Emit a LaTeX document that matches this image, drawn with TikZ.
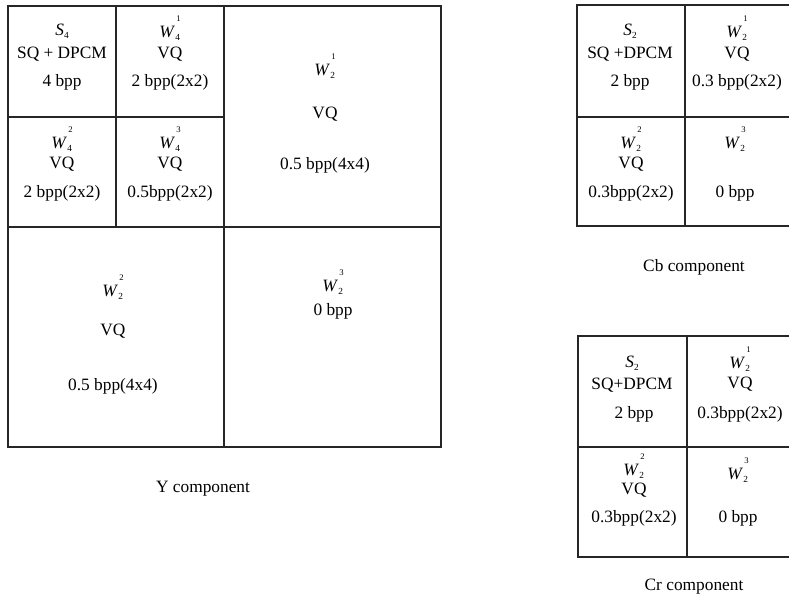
\documentclass[tikz,border=0pt]{standalone}
\usepackage{fontspec}
\setmainfont{Liberation Serif}

% band symbol: letter with index below and level number above
\newcommand{\subband}[3]{\textit{#1}\kern0.3pt\raisebox{-0.4ex}{\fontsize{7}{8}\selectfont #2}\kern-0.22em\raisebox{2.0ex}{\fontsize{6.5}{8}\selectfont #3}}

\tikzset{every picture/.style={line width=0.75pt}}
\tikzset{
  lbl/.style={font=\fontsize{13}{15}\selectfont, inner sep=0pt},
  captext/.style={font=\fontsize{13}{15}\selectfont, inner sep=0pt},
  grid/.style={line width=1.1pt, color=black!85}
}

\begin{document}
\begin{tikzpicture}[x=0.75pt,y=0.75pt,yscale=-1,xscale=1]
\path[use as bounding box] (0,0) rectangle (789,606);
\clip (0,0) rectangle (789,606);

%Y component frame
\draw [grid] (8,6) rectangle (441,447);
\draw [grid] (224,6) -- (224,447);
\draw [grid] (8,227) -- (441,227);
\draw [grid] (116,6) -- (116,227);
\draw [grid] (8,117) -- (224,117);

%Cb component frame
\draw [grid] (577,5) rectangle (795,226);
\draw [grid] (685,5) -- (685,226);
\draw [grid] (577,117) -- (795,117);

%Cr component frame
\draw [grid] (578,336) rectangle (797,557);
\draw [grid] (687,336) -- (687,557);
\draw [grid] (578,447) -- (797,447);

%Y : level 4 cells
\node [lbl] (ys4) at (62,31) {\textit{S}\raisebox{-0.35ex}{\fontsize{7}{8}\selectfont 4}};
\node [lbl] (ys4m) at (62,54) {SQ + DPCM};
\node [lbl] (ys4r) at (62,82) {4 bpp};
\node [lbl] (yw41) at (170,28) {\subband{W}{4}{1}};
\node [lbl] (yw41m) at (170,54) {VQ};
\node [lbl] (yw41r) at (170,82) {2 bpp(2x2)};
\node [lbl] (yw42) at (62,139) {\subband{W}{4}{2}};
\node [lbl] (yw42m) at (62,164) {VQ};
\node [lbl] (yw42r) at (62,193) {2 bpp(2x2)};
\node [lbl] (yw43) at (170,139) {\subband{W}{4}{3}};
\node [lbl] (yw43m) at (170,164) {VQ};
\node [lbl] (yw43r) at (170,193) {0.5bpp(2x2)};

%Y : level 2 cells
\node [lbl] (yw21) at (325,66) {\subband{W}{2}{1}};
\node [lbl] (yw21m) at (325,114) {VQ};
\node [lbl] (yw21r) at (325,165) {0.5 bpp(4x4)};
\node [lbl] (yw22) at (113,287) {\subband{W}{2}{2}};
\node [lbl] (yw22m) at (113,331) {VQ};
\node [lbl] (yw22r) at (113,386) {0.5 bpp(4x4)};
\node [lbl] (yw23) at (333,282) {\subband{W}{2}{3}};
\node [lbl] (yw23m) at (333,311) {0 bpp};

%Cb cells
\node [lbl] (bs2) at (630,31) {\textit{S}\raisebox{-0.35ex}{\fontsize{7}{8}\selectfont 2}};
\node [lbl] (bs2m) at (630,54) {SQ +DPCM};
\node [lbl] (bs2r) at (630,82) {2 bpp};
\node [lbl] (bw21) at (737,28) {\subband{W}{2}{1}};
\node [lbl] (bw21m) at (737,54) {VQ};
\node [lbl] (bw21r) at (737,82) {0.3 bpp(2x2)};
\node [lbl] (bw22) at (631,139) {\subband{W}{2}{2}};
\node [lbl] (bw22m) at (631,164) {VQ};
\node [lbl] (bw22r) at (631,193) {0.3bpp(2x2)};
\node [lbl] (bw23) at (735,139) {\subband{W}{2}{3}};
\node [lbl] (bw23r) at (735,193) {0 bpp};

%Cr cells
\node [lbl] (rs2) at (632,363) {\textit{S}\raisebox{-0.35ex}{\fontsize{7}{8}\selectfont 2}};
\node [lbl] (rs2m) at (632,385) {SQ+DPCM};
\node [lbl] (rs2r) at (634,414) {2 bpp};
\node [lbl] (rw21) at (740,359) {\subband{W}{2}{1}};
\node [lbl] (rw21m) at (740,384) {VQ};
\node [lbl] (rw21r) at (740,414) {0.3bpp(2x2)};
\node [lbl] (rw22) at (634,466) {\subband{W}{2}{2}};
\node [lbl] (rw22m) at (634,490) {VQ};
\node [lbl] (rw22r) at (634,518) {0.3bpp(2x2)};
\node [lbl] (rw23) at (738,470) {\subband{W}{2}{3}};
\node [lbl] (rw23r) at (738,518) {0 bpp};

%captions
\node [captext] (ycap) at (203,489) {Y component};
\node [captext] (cbcap) at (694,267) {Cb component};
\node [captext] (crcap) at (694,587) {Cr component};

\end{tikzpicture}
\end{document}
